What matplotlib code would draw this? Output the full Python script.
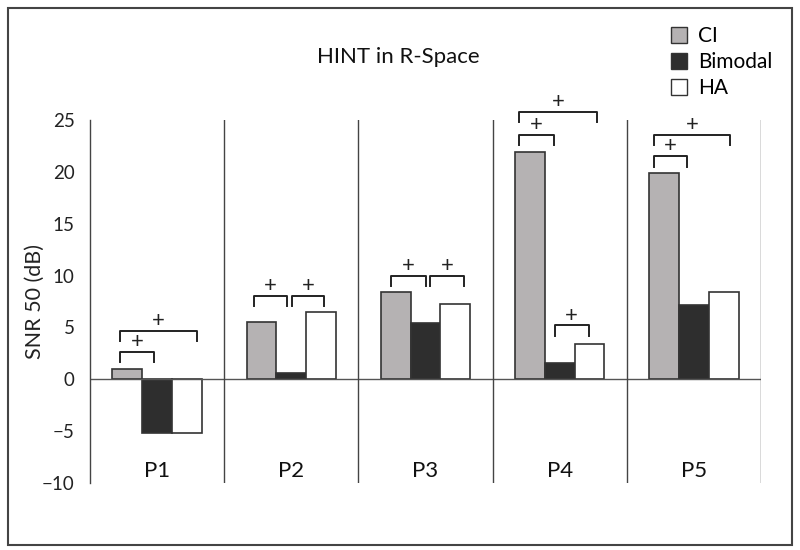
import numpy as np
import matplotlib
matplotlib.use("Agg")
import matplotlib.pyplot as plt
from matplotlib.patches import Patch, Rectangle

plt.rcParams['font.family'] = ['Lato', 'DejaVu Sans']

patients = ["P1", "P2", "P3", "P4", "P5"]
ci      = [0.95, 5.55, 8.45, 21.9, 19.9]
bimodal = [-5.15, 0.58, 5.45, 1.6, 7.15]
ha      = [-5.15, 6.5, 7.25, 3.45, 8.4]

# significance brackets: group, left offset, right offset, top (dB)
br_group = [0, 0, 1, 1, 2, 2, 3, 3, 3, 4, 4]
br_x0 = [-0.276, -0.276, -0.28, 0.007, -0.26, 0.03, -0.30, -0.30, -0.037, -0.30, -0.30]
br_x1 = [-0.022, 0.298, -0.03, 0.246, 0.0, 0.29, 0.276, -0.045, 0.216, 0.27, -0.05]
br_y = [2.66, 4.66, 8.06, 8.06, 10.0, 10.0, 25.8, 23.6, 5.2, 23.56, 21.5]

fig = plt.figure(figsize=(8, 5.5), dpi=100)
ax = fig.add_axes([0.1125, 0.1218, 0.83875, 0.66])

x = np.arange(len(patients))
w = 1 / 4.5
edge = "#333333"
ax.bar(x - w, ci, w, color="#b5b2b3", edgecolor=edge, linewidth=1.2, label="CI")
ax.bar(x, bimodal, w, color="#2e2e2e", edgecolor=edge, linewidth=1.2, label="Bimodal")
ax.bar(x + w, ha, w, color="white", edgecolor=edge, linewidth=1.2, label="HA")

ax.set_xlim(-0.5, len(patients) - 0.5)
ax.set_ylim(-10, 25)
ax.set_yticks(range(-10, 26, 5))
ax.tick_params(axis="y", length=0, pad=11, labelsize=13.5, labelcolor="#222222")
ax.set_xticks([])
for s in ["top", "right", "bottom"]:
    ax.spines[s].set_visible(False)
ax.spines["left"].set_color("#444444")
ax.spines["left"].set_linewidth(1.0)

ax.axhline(0, color="#555555", linewidth=1.0, zorder=1)
for d in np.arange(0.5, len(patients) - 0.5 + 0.01, 1.0):
    ax.axvline(d, color="#444444", linewidth=1.0, zorder=1)

for i, p in enumerate(patients):
    ax.text(i, -8.85, p, ha="center", va="center", fontsize=16, color="#111111")

leg = 1.0
for g, a, b, y in zip(br_group, br_x0, br_x1, br_y):
    ax.plot([g + a, g + a, g + b, g + b], [y - leg, y, y, y - leg],
            color="#222222", linewidth=1.4, clip_on=False)
    ax.text(g + (a + b) / 2, y + 0.95, "+", ha="center", va="center",
            fontsize=16, color="#222222", clip_on=False)

ax.set_ylabel("SNR 50 (dB)", fontsize=15.5, color="#222222")
ax.yaxis.set_label_coords(-0.068, 0.5)

fig.text(0.4975, 0.897, "HINT in R-Space", ha="center", va="center", fontsize=16, color="#111111")

handles = [Patch(facecolor="#b5b2b3", edgecolor=edge, label="CI"),
           Patch(facecolor="#2e2e2e", edgecolor=edge, label="Bimodal"),
           Patch(facecolor="white", edgecolor=edge, label="HA")]
fig.legend(handles=handles, loc="upper left", bbox_to_anchor=(0.828, 0.968),
           frameon=False, fontsize=15, handlelength=0.8, handleheight=0.8,
           handletextpad=0.5, labelspacing=0.3, borderaxespad=0)

fig.patches.append(Rectangle((0.01, 0.009), 0.98, 0.977, transform=fig.transFigure,
                             fill=False, edgecolor="#444444", linewidth=1.5))

fig.savefig("out.png", dpi=100)
